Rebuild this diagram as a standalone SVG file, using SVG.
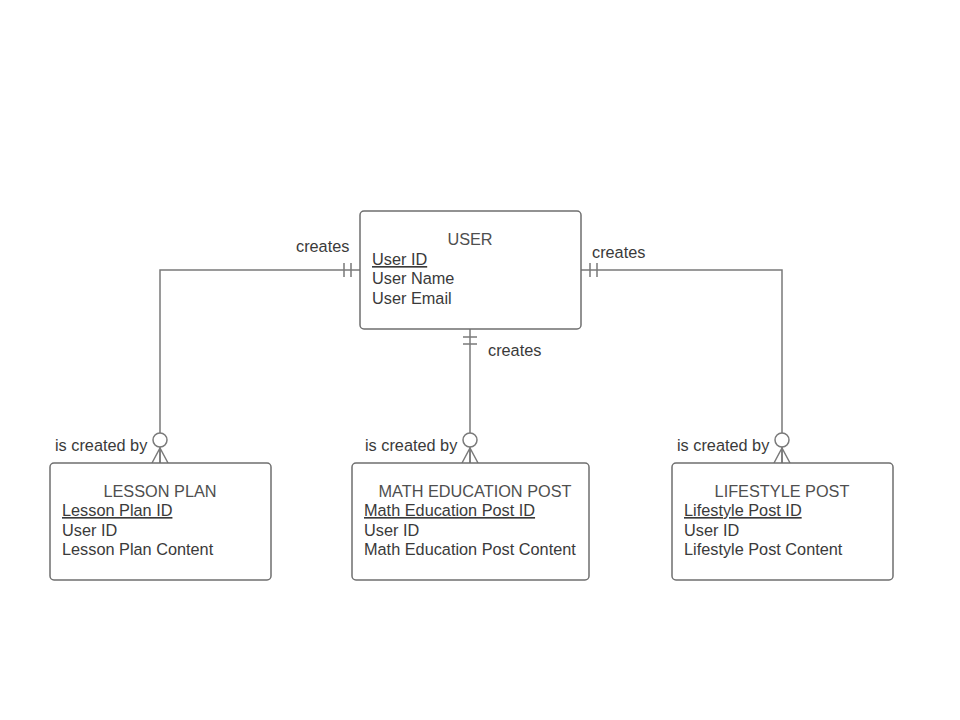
<svg xmlns="http://www.w3.org/2000/svg" width="960" height="720" viewBox="0 0 960 720">
  <style>
    .box { fill: #ffffff; stroke: #6f6f6f; stroke-width: 1.5; }
    .line { fill: none; stroke: #7a7a7a; stroke-width: 1.5; }
    .mark { fill: #ffffff; stroke: #7a7a7a; stroke-width: 1.5; }
    text { font-family: "Liberation Sans", Arial, sans-serif; font-size: 16.3px; fill: #3a3a3a; }
    .title { text-anchor: middle; fill: #4f4f4f; }
    .key { text-decoration: underline; }
  </style>
  <rect width="960" height="720" fill="#ffffff"/>

  <g id="connectors">
    <!-- USER to LESSON PLAN -->
    <path class="line" d="M360 270 H160 V463"/>
    <path class="line" d="M344 263 V277 M351 263 V277"/>
    <circle class="mark" cx="160" cy="440" r="7"/>
    <path class="line" d="M152 463 L160 448 L168 463 M160 448 V463"/>
    <text x="296" y="252">creates</text>
    <text x="55" y="451">is created by</text>

    <!-- USER to MATH EDUCATION POST -->
    <path class="line" d="M470 329 V463"/>
    <path class="line" d="M463 337 H477 M463 344 H477"/>
    <circle class="mark" cx="470" cy="440" r="7"/>
    <path class="line" d="M462 463 L470 448 L478 463 M470 448 V463"/>
    <text x="488" y="356">creates</text>
    <text x="365" y="451">is created by</text>

    <!-- USER to LIFESTYLE POST -->
    <path class="line" d="M581 270 H782 V463"/>
    <path class="line" d="M590 263 V277 M597 263 V277"/>
    <circle class="mark" cx="782" cy="440" r="7"/>
    <path class="line" d="M774 463 L782 448 L790 463 M782 448 V463"/>
    <text x="592" y="258">creates</text>
    <text x="677" y="451">is created by</text>
  </g>

  <g id="user">
    <rect class="box" x="360" y="211" width="221" height="118" rx="4"/>
    <text class="title" x="470" y="245">USER</text>
    <text class="key" x="372" y="265">User ID</text>
    <text x="372" y="284">User Name</text>
    <text x="372" y="304">User Email</text>
  </g>

  <g id="lesson-plan">
    <rect class="box" x="50" y="463" width="221" height="117" rx="4"/>
    <text class="title" x="160" y="497">LESSON PLAN</text>
    <text class="key" x="62" y="516">Lesson Plan ID</text>
    <text x="62" y="536">User ID</text>
    <text x="62" y="555">Lesson Plan Content</text>
  </g>

  <g id="math-education-post">
    <rect class="box" x="352" y="463" width="237" height="117" rx="4"/>
    <text class="title" x="475" y="497">MATH EDUCATION POST</text>
    <text class="key" x="364" y="516">Math Education Post ID</text>
    <text x="364" y="536">User ID</text>
    <text x="364" y="555">Math Education Post Content</text>
  </g>

  <g id="lifestyle-post">
    <rect class="box" x="672" y="463" width="221" height="117" rx="4"/>
    <text class="title" x="782" y="497">LIFESTYLE POST</text>
    <text class="key" x="684" y="516">Lifestyle Post ID</text>
    <text x="684" y="536">User ID</text>
    <text x="684" y="555">Lifestyle Post Content</text>
  </g>
</svg>
